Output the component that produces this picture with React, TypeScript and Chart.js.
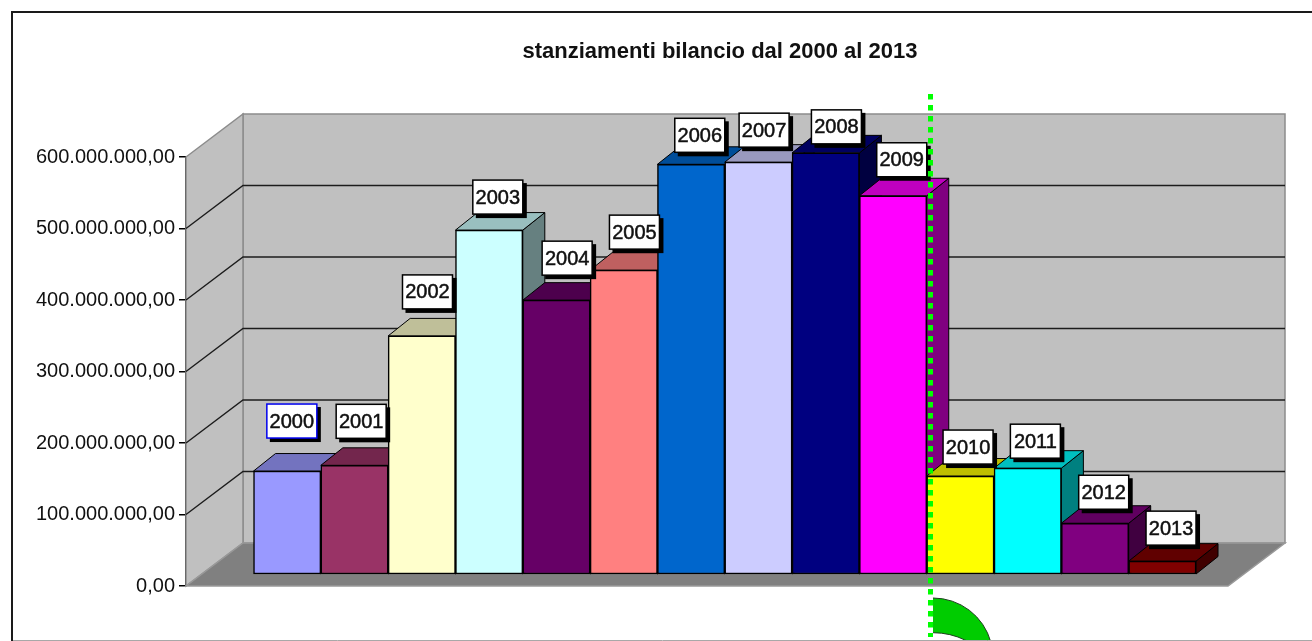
import React, { useEffect, useRef } from "react";
import { Chart, registerables } from "chart.js";

Chart.register(...registerables);

const years = ["2000","2001","2002","2003","2004","2005","2006","2007","2008","2009","2010","2011","2012","2013"];
const stanziamenti = [144000000,152000000,333000000,481000000,383000000,425000000,573000000,576000000,589000000,529000000,137000000,148000000,71000000,18000000];
const barColors = ["#9999FF","#993366","#FFFFCC","#CCFFFF","#660066","#FF8080","#0066CC","#CCCCFF","#000080","#FF00FF","#FFFF00","#00FFFF","#800080","#800000"];
const titleText = "stanziamenti bilancio dal 2000 al 2013";

// hand-placed year tags in the reference: lift above the bar top, inset from bar right edge
const tagLift = [33,27,27,16,25,21,12,15,9,19,12,10,14,16];
const tagInset = [4,2,3,0,-2,-2,0,3,-2,0,1,1,0,0];

const FONT = "'Liberation Sans', Arial, sans-serif";
const WALL_DX = 57, WALL_DY = 43, BAR_DX = 22, BAR_DY = 17.5;

function shade(hex: string, k: number) {
  const n = parseInt(hex.slice(1), 16);
  const c = [(n >> 16) & 255, (n >> 8) & 255, n & 255].map((v) => Math.round(v * k));
  return `rgb(${c[0]},${c[1]},${c[2]})`;
}
function poly(ctx: CanvasRenderingContext2D, pts: number[][], fill: string, stroke: string, lw = 1) {
  ctx.beginPath();
  pts.forEach((p, i) => (i ? ctx.lineTo(p[0], p[1]) : ctx.moveTo(p[0], p[1])));
  ctx.closePath();
  ctx.fillStyle = fill;
  ctx.fill();
  ctx.lineWidth = lw;
  ctx.strokeStyle = stroke;
  ctx.stroke();
}

const scenePlugin = {
  id: "scene3d",
  afterLayout(chart: any) {
    if (chart.titleBlock) {
      chart.titleBlock.left += 13;
      chart.titleBlock.right += 13;
    }
  },
  beforeDraw(chart: any) {
    const ctx = chart.ctx;
    ctx.save();
    ctx.strokeStyle = "#1a1a1a";
    ctx.lineWidth = 2;
    ctx.beginPath();
    ctx.moveTo(12, 641);
    ctx.lineTo(12, 12);
    ctx.lineTo(1312, 12);
    ctx.stroke();
    ctx.restore();
  },
  beforeDatasetsDraw(chart: any) {
    const ctx = chart.ctx;
    const { left, right, top, bottom } = chart.chartArea;
    const y = chart.scales.y;
    ctx.save();
    // back wall, left wall, floor
    poly(ctx, [[left + WALL_DX, top - WALL_DY],[right + WALL_DX, top - WALL_DY],[right + WALL_DX, bottom - WALL_DY],[left + WALL_DX, bottom - WALL_DY]], "#C0C0C0", "#8c8c8c", 1.5);
    poly(ctx, [[left, top],[left + WALL_DX, top - WALL_DY],[left + WALL_DX, bottom - WALL_DY],[left, bottom]], "#C0C0C0", "#8c8c8c", 1.5);
    poly(ctx, [[left, bottom],[right, bottom],[right + WALL_DX, bottom - WALL_DY],[left + WALL_DX, bottom - WALL_DY]], "#808080", "#999999", 1.5);
    // grid lines on the walls
    ctx.strokeStyle = "#1c1c1c";
    ctx.lineWidth = 1.4;
    y.ticks.forEach((t: any) => {
      if (t.value === 0 || t.value === y.max) return;
      const py = y.getPixelForValue(t.value);
      ctx.beginPath();
      ctx.moveTo(left, py);
      ctx.lineTo(left + WALL_DX, py - WALL_DY);
      ctx.lineTo(right + WALL_DX, py - WALL_DY);
      ctx.stroke();
    });
    // tops and sides of the bars, left to right
    const bars = chart.getDatasetMeta(0).data;
    bars.forEach((b: any, i: number) => {
      const l = b.x - b.width / 2, r = b.x + b.width / 2, t = b.y, base = b.base;
      poly(ctx, [[r, t],[r + BAR_DX, t - BAR_DY],[r + BAR_DX, base - BAR_DY],[r, base]], shade(barColors[i], 0.5), "#000", 1);
      poly(ctx, [[l, t],[r, t],[r + BAR_DX, t - BAR_DY],[l + BAR_DX, t - BAR_DY]], shade(barColors[i], 0.75), "#000", 1);
    });
    ctx.restore();
  },
  afterDatasetsDraw(chart: any) {
    const ctx = chart.ctx;
    const bars = chart.getDatasetMeta(0).data;
    ctx.save();
    const w = 50, h = 34;
    bars.forEach((b: any, i: number) => {
      const rx = b.x + b.width / 2 - tagInset[i];
      const by = b.y - tagLift[i];
      const lx = rx - w, ty = by - h;
      ctx.fillStyle = "#000";
      ctx.fillRect(lx + 3, ty + 3, w + 1, h + 1);
      ctx.fillStyle = "#fff";
      ctx.fillRect(lx, ty, w, h);
      ctx.strokeStyle = i === 0 ? "#0000EE" : "#000";
      ctx.lineWidth = 1.5;
      ctx.strokeRect(lx, ty, w, h);
      ctx.fillStyle = "#111";
      ctx.font = `20px ${FONT}`;
      ctx.textAlign = "center";
      ctx.textBaseline = "middle";
      ctx.fillText(years[i], lx + w / 2, ty + h / 2 + 1);
      ctx.strokeStyle = "#111";
      ctx.lineWidth = 0.5;
      ctx.strokeText(years[i], lx + w / 2, ty + h / 2 + 1);
    });
    // green dotted marker line and the arc below it
    const lineX = 930.5;
    ctx.beginPath();
    ctx.moveTo(lineX + 2.5, 598);
    ctx.arc(933, 658, 60, -Math.PI / 2, -Math.PI / 2 + 1.3);
    ctx.lineTo(966, 641);
    ctx.arc(933, 706.5, 73.8, -Math.PI / 2 + 0.46, -Math.PI / 2, true);
    ctx.closePath();
    ctx.fillStyle = "#00CC00";
    ctx.fill();
    ctx.strokeStyle = "#1f3f1f";
    ctx.lineWidth = 1;
    ctx.beginPath();
    ctx.arc(933, 658, 60, -Math.PI / 2, -Math.PI / 2 + 1.3);
    ctx.stroke();
    ctx.beginPath();
    ctx.arc(933, 706.5, 73.8, -Math.PI / 2 + 0.46, -Math.PI / 2, true);
    ctx.stroke();
    ctx.beginPath();
    ctx.setLineDash([5.5, 5.5]);
    ctx.moveTo(lineX, 94);
    ctx.lineTo(lineX, 637);
    ctx.strokeStyle = "#00FF00";
    ctx.lineWidth = 5;
    ctx.stroke();
    ctx.setLineDash([]);
    // lower edge of the frame
    ctx.strokeStyle = "#a8a8a8";
    ctx.lineWidth = 1;
    ctx.beginPath();
    ctx.moveTo(13, 640.5);
    ctx.lineTo(1312, 640.5);
    ctx.stroke();
    ctx.restore();
  },
};

function formatIt(v: number) {
  return v.toLocaleString("it-IT", { minimumFractionDigits: 2, maximumFractionDigits: 2, useGrouping: true }).replace(/\s/g, ".");
}

export default function App() {
  const ref = useRef<HTMLCanvasElement>(null);
  useEffect(() => {
    document.body.style.margin = "0";
    document.body.style.background = "#fff";
    const chart = new Chart(ref.current as HTMLCanvasElement, {
      type: "bar",
      data: {
        datasets: [
          {
            label: "stanziamenti",
            data: years.map((yr, i) => ({ x: Number(yr), y: stanziamenti[i] })),
            backgroundColor: barColors,
            borderColor: "#000",
            borderWidth: 1.5,
            borderSkipped: false,
            categoryPercentage: 1,
            barPercentage: 1,
            yAxisID: "yBars",
            xAxisID: "x",
            clip: false,
          } as any,
        ],
      },
      options: {
        responsive: false,
        animation: false,
        layout: { padding: { left: 0, right: 84, top: 0, bottom: 55 } },
        plugins: {
          legend: { display: false },
          tooltip: { enabled: false },
          title: {
            display: true,
            text: titleText,
            fullSize: false,
            color: "#111",
            font: { family: FONT, size: 22, weight: "bold", lineHeight: 1 },
            padding: { top: 41, bottom: 94 },
          },
        },
        scales: {
          x: { type: "linear", display: false, offset: false, min: 1998.497, max: 2013.975 },
          y: {
            position: "left",
            min: 0,
            max: 600000000,
            afterFit: (s: any) => { s.width = 186; },
            ticks: {
              stepSize: 100000000,
              color: "#111",
              padding: 4,
              font: { family: FONT, size: 20 },
              callback: (v: any) => formatIt(Number(v)),
            },
            grid: { drawOnChartArea: false, drawTicks: true, tickLength: 7, color: "#000", lineWidth: 1.5 },
            border: { display: true, color: "#000", width: 1.5 },
          },
          yBars: { display: false, min: -16783217, max: 583216783 },
        },
      } as any,
      plugins: [scenePlugin],
    });
    return () => chart.destroy();
  }, []);
  return <canvas ref={ref} width={1312} height={641} style={{ display: "block" }} />;
}
